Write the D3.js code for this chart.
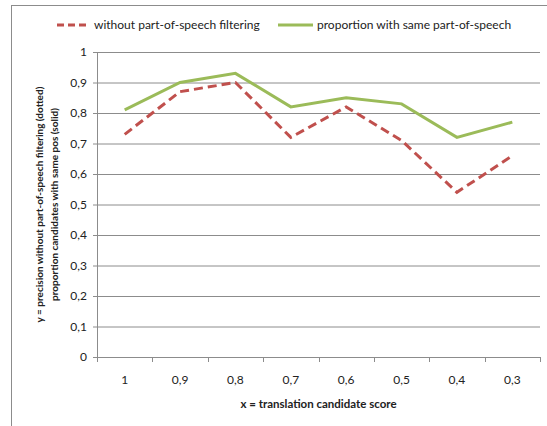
<!DOCTYPE html>
<html>
<head>
<meta charset="utf-8">
<script src="https://cdn.jsdelivr.net/npm/d3@7"></script>
<style>
  body { margin: 0; background: #fff; }
  text { font-family: Lato, "Open Sans", sans-serif; }
</style>
</head>
<body>
<script>
var categories = ["1", "0,9", "0,8", "0,7", "0,6", "0,5", "0,4", "0,3"];
var withoutFilter = [0.73, 0.87, 0.90, 0.72, 0.82, 0.71, 0.54, 0.66];
var samePos = [0.81, 0.90, 0.93, 0.82, 0.85, 0.83, 0.72, 0.77];
var yTicks = [0, 0.1, 0.2, 0.3, 0.4, 0.5, 0.6, 0.7, 0.8, 0.9, 1];
var seriesNames = ["without part-of-speech filtering", "proportion with same part-of-speech"];

var size = { width: 547, height: 426 };
var margin = { top: 52, right: 7, bottom: 69, left: 97 };
var w = size.width - margin.left - margin.right;
var h = size.height - margin.top - margin.bottom;

var svg = d3.select("body").append("svg")
  .attr("width", size.width)
  .attr("height", size.height);

// outer frame
svg.append("rect")
  .attr("x", 11.5).attr("y", 5.5)
  .attr("width", 560).attr("height", 440)
  .attr("fill", "none")
  .attr("stroke", "#8c8c8c");

var g = svg.append("g")
  .attr("transform", "translate(" + margin.left + "," + margin.top + ")");

var x = d3.scaleBand().domain(categories).range([0, w]);
var y = d3.scaleLinear().domain([0, 1]).range([h, 0]);

// gridlines + y axis
var yAxis = g.append("g")
  .call(d3.axisLeft(y).tickValues(yTicks).tickSize(-w).tickPadding(10)
    .tickFormat(function(d) { return d3.format(".1~f")(d).replace(".", ","); }));
yAxis.select(".domain").remove();
yAxis.selectAll(".tick line")
  .attr("x1", -4)
  .attr("stroke", "#8c8c8c");
yAxis.selectAll("text")
  .attr("font-size", 12).attr("fill", "#222");

// left axis line
g.append("line")
  .attr("x1", 0.5).attr("x2", 0.5)
  .attr("y1", 0).attr("y2", h)
  .attr("stroke", "#8c8c8c");

// x axis
var xAxis = g.append("g")
  .attr("transform", "translate(0," + h + ")")
  .call(d3.axisBottom(x).tickSize(0).tickPadding(18));
xAxis.select(".domain").attr("stroke", "#8c8c8c");
xAxis.selectAll("text").attr("font-size", 12).attr("fill", "#222");

// tick marks at category boundaries
g.append("g").selectAll("line")
  .data(categories.concat(["end"]))
  .enter().append("line")
  .attr("x1", function(d, i) { return Math.round(i * x.step()) + 0.5; })
  .attr("x2", function(d, i) { return Math.round(i * x.step()) + 0.5; })
  .attr("y1", h).attr("y2", h + 5)
  .attr("stroke", "#8c8c8c");

var line = d3.line()
  .x(function(d, i) { return x(categories[i]) + x.bandwidth() / 2; })
  .y(function(d) { return y(d); });

g.append("path")
  .datum(withoutFilter)
  .attr("d", line)
  .attr("fill", "none")
  .attr("stroke", "#c0504d")
  .attr("stroke-width", 3)
  .attr("stroke-dasharray", "9,5");

g.append("path")
  .datum(samePos)
  .attr("d", line)
  .attr("fill", "none")
  .attr("stroke", "#9bbb59")
  .attr("stroke-width", 3);

// axis titles
svg.append("text")
  .attr("x", margin.left + w / 2).attr("y", 408)
  .attr("text-anchor", "middle")
  .attr("font-size", 11.5).attr("font-weight", "bold").attr("fill", "#222")
  .text("x = translation candidate score");

var yt = svg.append("text")
  .attr("transform", "translate(43," + (margin.top + h / 2) + ") rotate(-90)")
  .attr("text-anchor", "middle")
  .attr("font-size", 10).attr("font-weight", "bold").attr("fill", "#222");
yt.append("tspan").attr("x", 0).attr("dy", 0)
  .text("y = precision without part-of-speech filtering (dotted)");
yt.append("tspan").attr("x", 0).attr("dy", 15)
  .text("proportion candidates with same pos (solid)");

// legend
var legend = svg.append("g");
legend.append("line")
  .attr("x1", 57).attr("x2", 89).attr("y1", 25).attr("y2", 25)
  .attr("stroke", "#c0504d").attr("stroke-width", 3).attr("stroke-dasharray", "7,4");
legend.append("text")
  .attr("x", 94).attr("y", 29)
  .attr("font-size", 12).attr("fill", "#222")
  .text(seriesNames[0]);
legend.append("line")
  .attr("x1", 278).attr("x2", 313).attr("y1", 25).attr("y2", 25)
  .attr("stroke", "#9bbb59").attr("stroke-width", 3);
legend.append("text")
  .attr("x", 317).attr("y", 29)
  .attr("font-size", 12).attr("fill", "#222")
  .text(seriesNames[1]);
</script>
</body>
</html>
